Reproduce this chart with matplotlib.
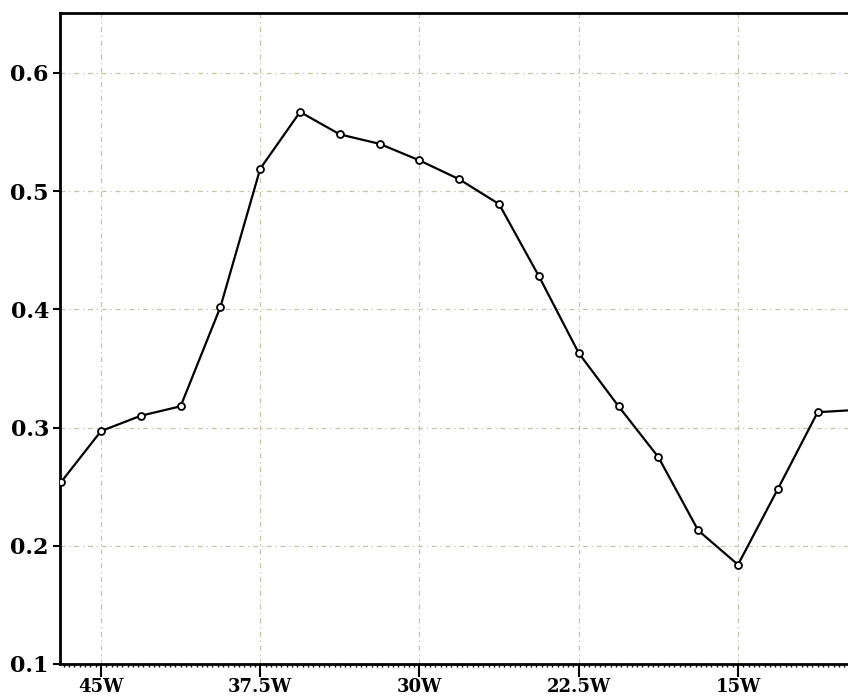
import numpy as np
import matplotlib.pyplot as plt
from matplotlib.ticker import MultipleLocator

# longitude (negative = west) and values
lon = [-46.875, -45.0, -43.125, -41.25, -39.375, -37.5, -35.625, -33.75,
       -31.875, -30.0, -28.125, -26.25, -24.375, -22.5, -20.625, -18.75,
       -16.875, -15.0, -13.125, -11.25, -9.375]
val = [0.254, 0.297, 0.310, 0.318, 0.402, 0.519, 0.567, 0.548,
       0.540, 0.526, 0.510, 0.489, 0.428, 0.363, 0.318, 0.275,
       0.213, 0.184, 0.248, 0.313, 0.315]

xticks = [-45, -37.5, -30, -22.5, -15]
xlabels = ['45W', '37.5W', '30W', '22.5W', '15W']
yticks = [0.1, 0.2, 0.3, 0.4, 0.5, 0.6]

fig = plt.figure(figsize=(8.48, 6.99), dpi=100)
ax = fig.add_axes([60/848, 35/699, 1 - 60/848, 651/699])

ax.plot(lon, val, color='k', lw=1.6, marker='o', ms=5,
        mfc='white', mec='k', mew=1.3, zorder=3)

ax.set_xlim(-46.93, -9.82)
ax.set_ylim(0.1, 0.6507)

ax.set_xticks(xticks)
ax.set_xticklabels(xlabels)
ax.set_yticks(yticks)
ax.set_yticklabels(['%.1f' % y for y in yticks])
ax.xaxis.set_minor_locator(MultipleLocator(0.25))

ax.grid(True, which='major', color='#c8c3a6', ls=(0, (4, 3, 1, 3)), lw=0.9)

for s in ['left', 'bottom', 'top']:
    ax.spines[s].set_linewidth(2)
ax.spines['right'].set_visible(False)

ax.tick_params(axis='x', which='major', direction='out', length=9, width=1.5, pad=1)
ax.tick_params(axis='x', which='minor', direction='out', length=2, width=1)
ax.tick_params(axis='y', which='major', direction='out', length=5, width=1.5, pad=3)
for lab in ax.get_xticklabels():
    lab.set_fontfamily('DejaVu Serif')
    lab.set_fontweight('bold')
    lab.set_fontsize(13)
for lab in ax.get_yticklabels():
    lab.set_fontfamily('DejaVu Serif')
    lab.set_fontweight('bold')
    lab.set_fontsize(16)

plt.savefig('out.png', dpi=100)
